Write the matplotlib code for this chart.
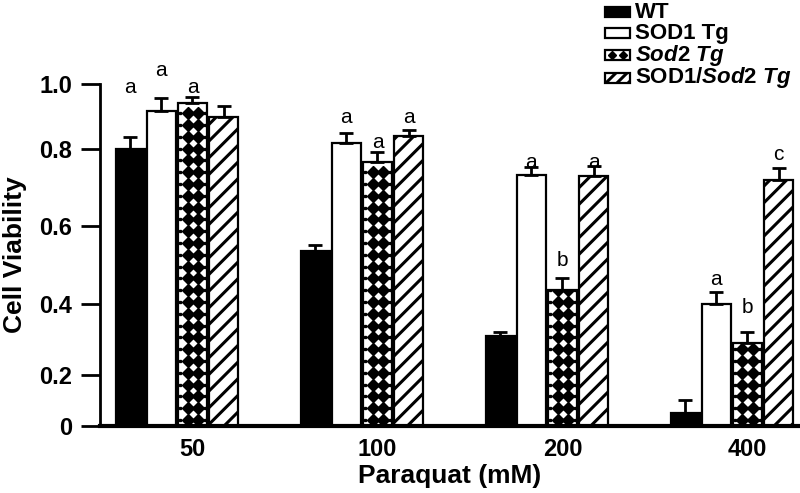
import matplotlib.pyplot as plt
import numpy as np
from matplotlib.patches import Rectangle
from matplotlib.lines import Line2D

plt.rcParams['font.family'] = 'Liberation Sans'
plt.rcParams['mathtext.fontset'] = 'custom'
plt.rcParams['mathtext.it'] = 'Liberation Sans:italic:bold'
plt.rcParams['mathtext.rm'] = 'Liberation Sans:bold'
plt.rcParams['hatch.linewidth'] = 2.2

# ---------------------------------- data ----------------------------------
doses = ['50', '100', '200', '400']
series_names = ['WT', 'SOD1 Tg', r'$Sod2\ Tg$', r'SOD1/$Sod2\ Tg$']

wt = [0.80, 0.535, 0.31, 0.05]
sod1 = [0.917, 0.818, 0.731, 0.40]
sod2 = [0.942, 0.767, 0.436, 0.29]
dbl = [0.898, 0.84, 0.73, 0.718]

wt_err = [0.035, 0.015, 0.012, 0.05]
sod1_err = [0.04, 0.03, 0.023, 0.03]
sod2_err = [0.018, 0.025, 0.03, 0.03]
dbl_err = [0.034, 0.018, 0.026, 0.033]

# significance letters (per dose: WT, SOD1, Sod2, SOD1/Sod2) and their heights
letters = [['a', 'a', 'a', ''],
           ['', 'a', 'a', 'a'],
           ['', 'a', 'b', 'a'],
           ['', 'a', 'b', 'c']]
letter_y = [[0.99, 1.04, 0.99, 0],
            [0, 0.895, 0.82, 0.895],
            [0, 0.764, 0.51, 0.764],
            [0, 0.462, 0.39, 0.785]]

# the printed y axis is not evenly spaced: where each tick sits (axis fraction)
yticks = [0, 0.2, 0.4, 0.6, 0.8, 1.0]
ytick_frac = [0, 0.149, 0.357, 0.585, 0.810, 1.0]


def fwd(v):
    v = np.asarray(v, dtype=float)
    out = np.interp(v, yticks, ytick_frac)
    out = np.where(v > 1.0, 1.0 + (v - 1.0) * (1.0 - 0.810) / 0.2, out)
    out = np.where(v < 0, v * 0.149 / 0.2, out)
    return out


def inv(f):
    f = np.asarray(f, dtype=float)
    out = np.interp(f, ytick_frac, yticks)
    out = np.where(f > 1.0, 1.0 + (f - 1.0) * 0.2 / (1.0 - 0.810), out)
    out = np.where(f < 0, f * 0.2 / 0.149, out)
    return out


# ---------------------------------- plot ----------------------------------
W, H = 800, 493
fig = plt.figure(figsize=(W / 100, H / 100), dpi=100)
ax = fig.add_axes([0.125, 0.136, 0.875, 0.694])
ax.set_yscale('function', functions=(fwd, inv))

x = np.arange(len(doses))
step = 0.168
width = 0.158
values = [wt, sod1, sod2, dbl]
errors = [wt_err, sod1_err, sod2_err, dbl_err]
faces = ['black', 'white', 'white', 'white']
hatches = [None, None, None, '//']

bars_all = []
for j in range(4):
    xj = x + (j - 1.5) * step
    bars = ax.bar(xj, values[j], width, color=faces[j], edgecolor='black',
                  linewidth=1.6, hatch=hatches[j], zorder=2)
    ax.errorbar(xj, values[j], yerr=[np.zeros(4), errors[j]], fmt='none',
                ecolor='black', elinewidth=2, capsize=5, capthick=2, zorder=3)
    bars_all.append(bars)

# diamond fill for the Sod2 Tg bars (evenly spaced in screen space)
row_frac = 0.0345
for b in bars_all[2]:
    x0, w, h = b.get_x(), b.get_width(), b.get_height()
    ys = inv(np.arange(row_frac / 2, fwd(h), row_frac))
    for fx in (0.33, 0.70):
        d = ax.plot(np.full_like(ys, x0 + fx * w), ys, ls='none', marker='D',
                    ms=6.5, color='black', zorder=2.5)[0]
        d.set_clip_path(b)
    for fx in (0.08, 0.515, 0.93):
        d = ax.plot(np.full_like(ys, x0 + fx * w), ys, ls='none', marker='s',
                    ms=1.4, color='black', zorder=2.5)[0]
        d.set_clip_path(b)

# letters
for i in range(len(doses)):
    for j in range(4):
        if letters[i][j]:
            ax.text(x[i] + (j - 1.5) * step, letter_y[i][j], letters[i][j],
                    ha='center', va='center', fontsize=15, clip_on=False)

ax.set_xlim(-0.416, 3.368)
ax.set_ylim(0, 1.0)
ax.set_yticks(yticks)
ax.set_yticklabels(['0', '0.2', '0.4', '0.6', '0.8', '1.0'])
ax.yaxis.set_minor_locator(plt.NullLocator())
ax.set_xticks(x + 0.5 * step)
ax.set_xticklabels(doses)
ax.tick_params(axis='y', length=14, width=2, labelsize=17, pad=6)
ax.tick_params(axis='x', length=0, labelsize=17, pad=9)
for lab in ax.get_xticklabels() + ax.get_yticklabels():
    lab.set_fontweight('bold')
ax.spines['top'].set_visible(False)
ax.spines['right'].set_visible(False)
ax.spines['left'].set_linewidth(2)
ax.spines['bottom'].set_linewidth(3)
ax.set_xlabel('Paraquat (mM)', fontsize=19, fontweight='bold', labelpad=2)
ax.set_ylabel('Cell Viability', fontsize=19, fontweight='bold', labelpad=9)

# legend, laid out by hand in figure pixels
row_y = [12, 33, 55, 78]
box_x, box_w, box_h, text_x = 605, 25, 10, 635
leg_face = ['black', 'white', 'white', 'white']
leg_hatch = [None, None, None, '///']
for k, name in enumerate(series_names):
    yc = H - row_y[k]
    fig.add_artist(Rectangle((box_x / W, (yc - box_h / 2) / H), box_w / W, box_h / H,
                             transform=fig.transFigure, facecolor=leg_face[k],
                             edgecolor='black', linewidth=1.6, hatch=leg_hatch[k]))
    if k == 2:
        fig.add_artist(Line2D([(box_x + 7) / W, (box_x + 18) / W], [yc / H, yc / H],
                              transform=fig.transFigure, ls='none', marker='D',
                              ms=4.5, color='black'))
    fig.text(text_x / W, yc / H, name, fontsize=16, fontweight='bold',
             ha='left', va='center')

fig.savefig('out.png', dpi=100)
